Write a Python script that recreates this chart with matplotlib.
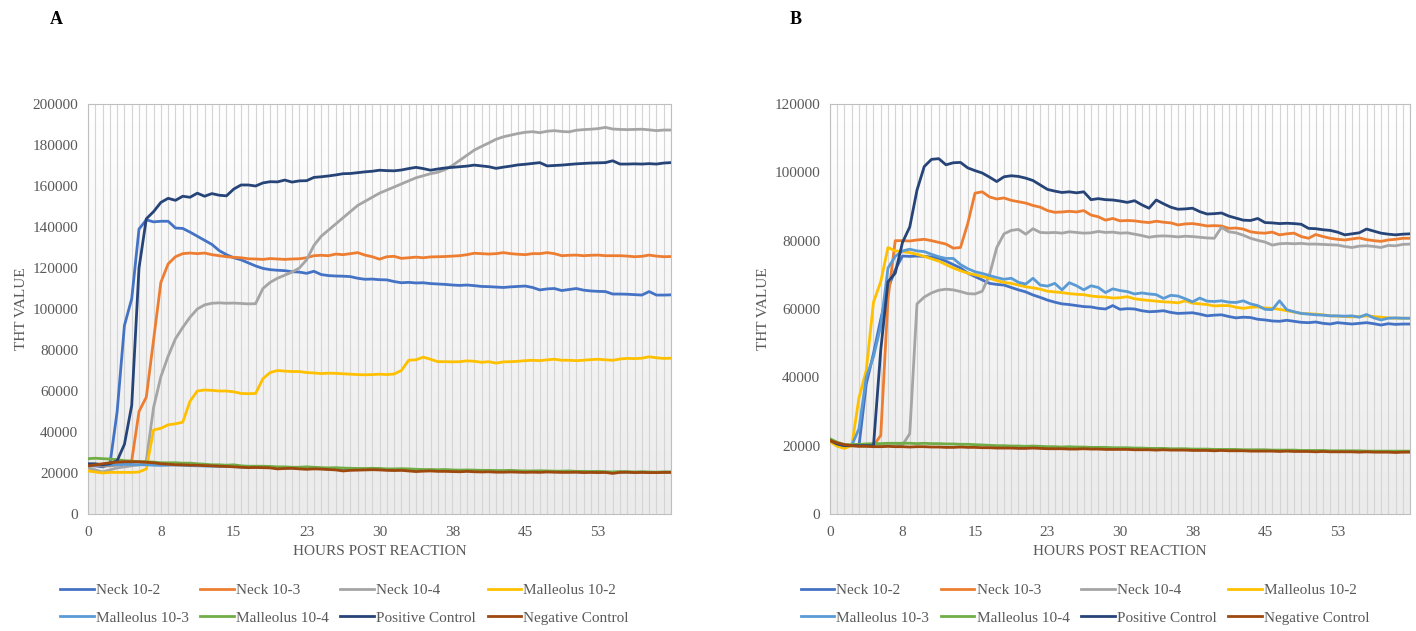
import numpy as np
import matplotlib
matplotlib.use('Agg')
import matplotlib.pyplot as plt

# time points: one reading every 45 minutes, 81 readings
hours = np.arange(81) * 0.75
tick_hours = [0, 7.5, 15, 22.5, 30, 37.5, 45, 52.5]
tick_labels = ['0', '8', '15', '23', '30', '38', '45', '53']

series_names = ['Neck 10-2', 'Neck 10-3', 'Neck 10-4', 'Malleolus 10-2',
                'Malleolus 10-3', 'Malleolus 10-4', 'Positive Control', 'Negative Control']
series_colors = ['#4472C4', '#ED7D31', '#A5A5A5', '#FFC000',
                 '#5B9BD5', '#70AD47', '#264478', '#9E480E']

# ---- panel A ----
A_neck2 = [23500, 23500, 23000, 24000, 50000, 92000, 105000, 139000, 143500, 142500,
           142800, 142800, 139500, 139300, 137500, 135500, 133500, 131500, 128500, 126500,
           125000, 124000, 122500, 121000, 119800, 119200, 118900, 118700, 118200, 118000,
           117400, 118400, 116800, 116300, 116100, 116000, 115800, 115000, 114500, 114600,
           114300, 114200, 113400, 112800, 113000, 112700, 112800, 112400, 112200, 112000,
           111700, 111500, 111700, 111400, 111000, 110900, 110700, 110500, 110800, 111000,
           111200, 110500, 109300, 109800, 110000, 109000, 109500, 110000, 109200, 108800,
           108600, 108500, 107300, 107300, 107200, 107000, 106800, 108500, 106800, 106800,
           106900]
A_neck3 = [24000, 24000, 23500, 23500, 24000, 24500, 26000, 50000, 57000, 85000,
           113000, 122000, 125500, 127000, 127300, 127000, 127300, 126500, 126000, 125500,
           125200, 125000, 124500, 124400, 124200, 124600, 124400, 124200, 124400, 124500,
           125000, 126000, 126200, 126000, 126800, 126500, 127000, 127500, 126300, 125500,
           124300, 125500, 125700, 124700, 125000, 125300, 125000, 125400, 125500, 125600,
           125800, 126000, 126500, 127200, 127000, 126800, 127000, 127500, 127000, 126700,
           126500, 127000, 127000, 127500, 127000, 126000, 126200, 126300, 126000, 126200,
           126300, 126000, 126000, 126000, 125800, 125500, 125700, 126300, 125800, 125500,
           125600]
A_neck4 = [22500, 21500, 20500, 21500, 22500, 23000, 23500, 24000, 26000, 52000,
           67000, 77000, 85500, 91000, 96000, 100000, 102000, 102800, 103000, 102800,
           102900, 102700, 102500, 102600, 110000, 113000, 115000, 116500, 118000, 120000,
           124000, 131000, 135500, 138500, 141500, 144500, 147500, 150500, 152500, 154500,
           156500, 158000, 159500, 161000, 162500, 164000, 165000, 166000, 166700, 168000,
           170000, 172500, 175000, 177500, 179300, 181000, 182800, 184000, 184800, 185600,
           186200, 186500, 186000, 186700, 187000, 186600, 186400, 187200, 187500, 187700,
           188000, 188600, 187800, 187600, 187500, 187600, 187700, 187400, 187000, 187300,
           187300]
A_mall2 = [21000, 20500, 20000, 20300, 20300, 20300, 20300, 20500, 22000, 41000,
           41800, 43500, 44000, 44800, 55000, 60000, 60500, 60300, 60000, 60000,
           59600, 58800, 58700, 58800, 66000, 69000, 70000, 69700, 69500, 69500,
           69000, 68800, 68500, 68700, 68600, 68400, 68200, 68000, 67900, 68000,
           68200, 68000, 68300, 70000, 75000, 75200, 76500, 75500, 74300, 74300,
           74200, 74300, 74700, 74500, 74000, 74300, 73600, 74200, 74300, 74500,
           74800, 75000, 74800, 75200, 75500, 75000, 75000, 74800, 75000, 75300,
           75500, 75200, 75000, 75600, 75900, 75800, 76000, 76700, 76200, 75900,
           76000]
A_mall3 = [24000, 24000, 23800, 23800, 24000, 24200, 24200, 24000, 24000, 23800,
           23700, 23800, 23900, 23700, 23600, 23500, 23400, 23300, 23200, 23100,
           23200, 22900, 22800, 22800, 22700, 22700, 22500, 22400, 22400, 22300,
           22400, 22200, 22100, 22000, 22100, 21900, 21800, 21800, 21700, 21800,
           21700, 21600, 21600, 21500, 21500, 21400, 21300, 21300, 21200, 21300,
           21100, 21000, 21100, 21000, 20900, 21000, 20900, 20800, 20900, 20800,
           20700, 20700, 20800, 20700, 20600, 20600, 20700, 20500, 20500, 20500,
           20500, 20400, 20300, 20400, 20400, 20300, 20400, 20300, 20300, 20400,
           20400]
A_mall4 = [27000, 27200, 27000, 26800, 26500, 26000, 25800, 25500, 25500, 25300,
           25000, 25000, 25000, 24800, 24800, 24500, 24300, 24000, 24000, 23800,
           24000, 23500, 23300, 23300, 23300, 23200, 23000, 23000, 22800, 22800,
           23000, 22800, 22600, 22500, 22600, 22400, 22300, 22200, 22200, 22300,
           22200, 22000, 22000, 22100, 22000, 21800, 21700, 21700, 21600, 21700,
           21500, 21400, 21500, 21400, 21300, 21300, 21200, 21200, 21300, 21100,
           21000, 21000, 21100, 21000, 20900, 20900, 21000, 20800, 20800, 20700,
           20800, 20600, 20500, 20700, 20600, 20500, 20600, 20500, 20400, 20500,
           20500]
A_pos = [24500, 24500, 24000, 24500, 26000, 34000, 53000, 120000, 144000, 147500,
         152000, 154000, 153000, 155000, 154500, 156500, 155000, 156300, 155500, 155200,
         158500, 160500, 160500, 160000, 161500, 162100, 162000, 162900, 161900, 162500,
         162600, 164200, 164500, 164900, 165400, 166000, 166100, 166500, 166900, 167200,
         167700, 167500, 167400, 167800, 168500, 169100, 168500, 167700, 168300, 168800,
         169100, 169400, 169700, 170200, 169800, 169400, 168600, 169200, 169700, 170300,
         170600, 171000, 171400, 169800, 170000, 170200, 170500, 170800, 171000, 171200,
         171300, 171400, 172300, 170700, 170700, 170800, 170700, 170900, 170700, 171200,
         171400]
A_neg = [23500, 24000, 24500, 25000, 25300, 25500, 25500, 25500, 25200, 25000,
         24500, 24300, 24000, 24000, 23800, 23800, 23600, 23500, 23300, 23200,
         23000, 22800, 22600, 22700, 22600, 22500, 22000, 22200, 22300, 22000,
         21800, 22000, 21900, 21700, 21500, 21000, 21300, 21400, 21500, 21600,
         21500, 21300, 21200, 21300, 21000, 20700, 20900, 21000, 20800, 20800,
         20700, 20600, 20800, 20600, 20500, 20600, 20400, 20400, 20500, 20400,
         20300, 20400, 20300, 20500, 20400, 20300, 20300, 20400, 20200, 20300,
         20200, 20300, 19800, 20300, 20400, 20200, 20300, 20200, 20200, 20300,
         20300]

# ---- panel B ----
B_neck2 = [21500, 20500, 20000, 20000, 20000, 38000, 47000, 57000, 66000, 71500,
           75500, 75400, 75500, 75400, 75200, 74800, 74000, 73000, 72000, 70500,
           69500, 68500, 67500, 67200, 67000, 66300, 65600, 65000, 64100, 63400,
           62600, 62000, 61500, 61300, 61000, 60700, 60600, 60200, 60000, 61000,
           59900, 60100, 60000, 59500, 59200, 59300, 59500, 59000, 58700, 58800,
           58900, 58500, 58000, 58200, 58300, 57800, 57400, 57600, 57500, 57000,
           56800, 56500, 56400, 56700, 56400, 56100, 56000, 56200, 55800, 55600,
           56000, 55800, 55600, 55800, 56000, 55700, 55300, 55700, 55500, 55600,
           55600]
B_neck3 = [21500, 20500, 20000, 20000, 20000, 20000, 20000, 23000, 63000, 80000,
           80000, 79900, 80200, 80400, 80000, 79500, 79000, 77800, 78000, 85000,
           93900, 94300, 92800, 92200, 92500, 91800, 91400, 91000, 90300, 89800,
           88800, 88300, 88400, 88600, 88400, 88800, 87500, 87000, 86000, 86500,
           85800, 85900, 85800, 85500, 85300, 85700, 85400, 85200, 84600, 84900,
           85000, 84700, 84300, 84400, 84300, 83600, 83700, 83400, 82600, 82300,
           82200, 82500, 81700, 82000, 82200, 81200, 80700, 81800, 81200, 80700,
           80400, 80200, 80500, 80800, 80300, 80000, 79800, 80200, 80400, 80700,
           80700]
B_neck4 = [21500, 20500, 20000, 20000, 20000, 20000, 20000, 20000, 20000, 20000,
           20200, 23500, 61500, 63500, 64700, 65500, 65800, 65600, 65100, 64500,
           64400, 65200, 70000, 78000, 82000, 83000, 83300, 81900, 83500, 82400,
           82300, 82400, 82200, 82600, 82400, 82200, 82300, 82700, 82400, 82500,
           82200, 82300, 81900, 81500, 81000, 81300, 81400, 81300, 81100, 81300,
           81200, 81000, 80800, 80700, 83900, 82600, 82300, 81600, 80700, 80100,
           79600, 78700, 79100, 79200, 79100, 79200, 79000, 79000, 78900, 78800,
           78700, 78300, 78000, 78400, 78500, 78300, 78000, 78600, 78500, 78900,
           79000]
B_mall2 = [21200, 19800, 19200, 20000, 34000, 42000, 62000, 68000, 78000, 77000,
           76800, 76500, 76000, 75400, 74700, 74000, 73000, 72000, 71200, 70500,
           70000, 69500, 69000, 68300, 67800, 67500, 67000, 66500, 66200, 65800,
           65200, 65000, 64800, 64500, 64300, 64200, 63800, 63600, 63500, 63200,
           63300, 63600, 63000, 62700, 62500, 62300, 62100, 62000, 61800, 62400,
           61700, 61500, 61300, 60900, 61000, 61000, 60500, 60200, 60500, 60600,
           60300, 60200, 59900, 59500, 59100, 58700, 58600, 58500, 58300, 58000,
           57900, 57800, 57700, 57800, 58000, 57800, 57600, 57400, 57300, 57300,
           57300]
B_mall3 = [22000, 20500, 20000, 20000, 25000, 40000, 46000, 55000, 72000, 75400,
           77000, 77500, 77000, 76800, 76000, 75300, 74800, 74800, 73000, 71800,
           70900, 70400, 69800, 69200, 68700, 69000, 67800, 67300, 69000, 67000,
           66700, 67500, 65600, 67700, 66800, 65600, 66800, 66300, 64800, 65900,
           65400, 65100, 64400, 64700, 64400, 64200, 63100, 64000, 63800, 63000,
           62100, 63200, 62300, 62200, 62400, 62000, 61900, 62400, 61500, 61000,
           59900, 59800, 62400, 59800, 59200, 58700, 58500, 58300, 58200, 58000,
           58000, 57900, 58000, 57600, 58400, 57400, 56800, 57300, 57400, 57300,
           57300]
B_mall4 = [22000, 21000, 20300, 20300, 20400, 20500, 20600, 20600, 20700, 20700,
           20700, 20700, 20600, 20700, 20600, 20600, 20500, 20500, 20400, 20400,
           20300, 20200, 20100, 20000, 20000, 19900, 19900, 19800, 19900, 19800,
           19700, 19700, 19600, 19700, 19600, 19600, 19500, 19500, 19500, 19400,
           19400, 19400, 19300, 19300, 19200, 19200, 19200, 19100, 19100, 19100,
           19000, 19000, 19000, 18900, 18900, 18900, 18900, 18800, 18800, 18800,
           18800, 18700, 18700, 18700, 18700, 18600, 18600, 18600, 18600, 18500,
           18500, 18500, 18500, 18500, 18400, 18400, 18400, 18400, 18400, 18400,
           18400]
B_pos = [21500, 20500, 20000, 20000, 20000, 20000, 20000, 48000, 68000, 70500,
         79500, 84000, 94800, 101700, 103800, 104000, 102200, 102800, 102900, 101300,
         100500, 99800, 98600, 97300, 98700, 99000, 98800, 98300, 97600, 96300,
         95000, 94500, 94100, 94300, 94000, 94300, 92000, 92300, 92000, 91900,
         91600, 91200, 91700, 90500, 89500, 91900, 90800, 89800, 89200, 89300,
         89500, 88500, 87800, 87900, 88100, 87200, 86600, 86000, 85900, 86500,
         85300, 85200, 85000, 85100, 85000, 84800, 83600, 83500, 83200, 83000,
         82500, 81700, 82000, 82300, 83400, 82800, 82200, 81900, 81700, 81900,
         82000]
B_neg = [21500, 20800, 20300, 20000, 19800, 19800, 19700, 19700, 19800, 19700,
         19700, 19600, 19700, 19700, 19600, 19600, 19500, 19500, 19600, 19500,
         19500, 19400, 19400, 19300, 19300, 19300, 19200, 19200, 19300, 19200,
         19100, 19100, 19100, 19000, 19000, 19100, 19000, 19000, 18900, 18900,
         18900, 18900, 18800, 18800, 18800, 18700, 18800, 18700, 18700, 18700,
         18600, 18600, 18600, 18500, 18600, 18500, 18500, 18500, 18400, 18400,
         18400, 18400, 18300, 18400, 18300, 18300, 18300, 18200, 18300, 18200,
         18200, 18200, 18200, 18100, 18200, 18100, 18100, 18100, 18000, 18100,
         18100]

panel_A = [A_neck2, A_neck3, A_neck4, A_mall2, A_mall3, A_mall4, A_pos, A_neg]
panel_B = [B_neck2, B_neck3, B_neck4, B_mall2, B_mall3, B_mall4, B_pos, B_neg]

plt.rcParams['font.family'] = ['Liberation Serif', 'DejaVu Serif']
text_grey = '#595959'

W, H = 1416, 631
fig = plt.figure(figsize=(W / 100, H / 100), dpi=100)
fig.patch.set_facecolor('white')

# soft white->grey fill like the excel plot area
grad = np.linspace(1.0, 0.0, 256).reshape(-1, 1)
bg_cmap = matplotlib.colors.LinearSegmentedColormap.from_list('bg', ['#ebebeb', '#ffffff'])


def draw_panel(px_left, px_right, data, ymax, letter, letter_x):
    ax = fig.add_axes([px_left / W, (H - 514) / H, (px_right - px_left) / W, 410 / H])
    ax.imshow(grad, extent=[0, 1, 0, 1], transform=ax.transAxes, aspect='auto',
              cmap=bg_cmap, zorder=0)
    lines = []
    for vals, name, col in zip(data, series_names, series_colors):
        ln, = ax.plot(hours, vals, color=col, lw=2.0, label=name, zorder=3,
                      solid_joinstyle='round')
        lines.append(ln)
    ax.set_xlim(0, 60)
    ax.set_ylim(0, ymax)
    ax.set_yticks(np.arange(0, ymax + 1, 20000))
    ax.set_xticks(tick_hours)
    ax.set_xticklabels(tick_labels)
    ax.set_xticks(hours, minor=True)
    ax.grid(which='both', axis='x', color='#d4d4d4', lw=0.8, zorder=1)
    ax.set_axisbelow(True)
    ax.tick_params(which='both', length=0, labelsize=11, labelcolor=text_grey)
    ax.tick_params(axis='y', pad=7)
    ax.tick_params(axis='x', pad=9)
    for sp in ax.spines.values():
        sp.set_color('#bfbfbf')
        sp.set_linewidth(0.8)
    ax.set_ylabel('THT VALUE', fontsize=11, color=text_grey, labelpad=3)
    ax.set_xlabel('HOURS POST REACTION', fontsize=11, color=text_grey, labelpad=4)
    fig.text(letter_x / W, 1 - 20 / H, letter, fontsize=13, fontweight='bold',
             ha='center', va='center')

    # excel fills the legend row by row, matplotlib column by column
    order = [0, 4, 1, 5, 2, 6, 3, 7]
    leg_center = ((px_left + px_right) / 2 - 35) / W
    fig.legend([lines[k] for k in order], [series_names[k] for k in order],
               loc='center', bbox_to_anchor=(leg_center, 1 - 604 / H), ncol=4,
               frameon=False, fontsize=11, handlelength=2.2, handletextpad=0.15,
               columnspacing=0.75, labelspacing=0.9, labelcolor=text_grey)
    return ax


draw_panel(88, 671, panel_A, 200000, 'A', 56)
draw_panel(830, 1410, panel_B, 120000, 'B', 796)

fig.savefig('out.png', dpi=100)
